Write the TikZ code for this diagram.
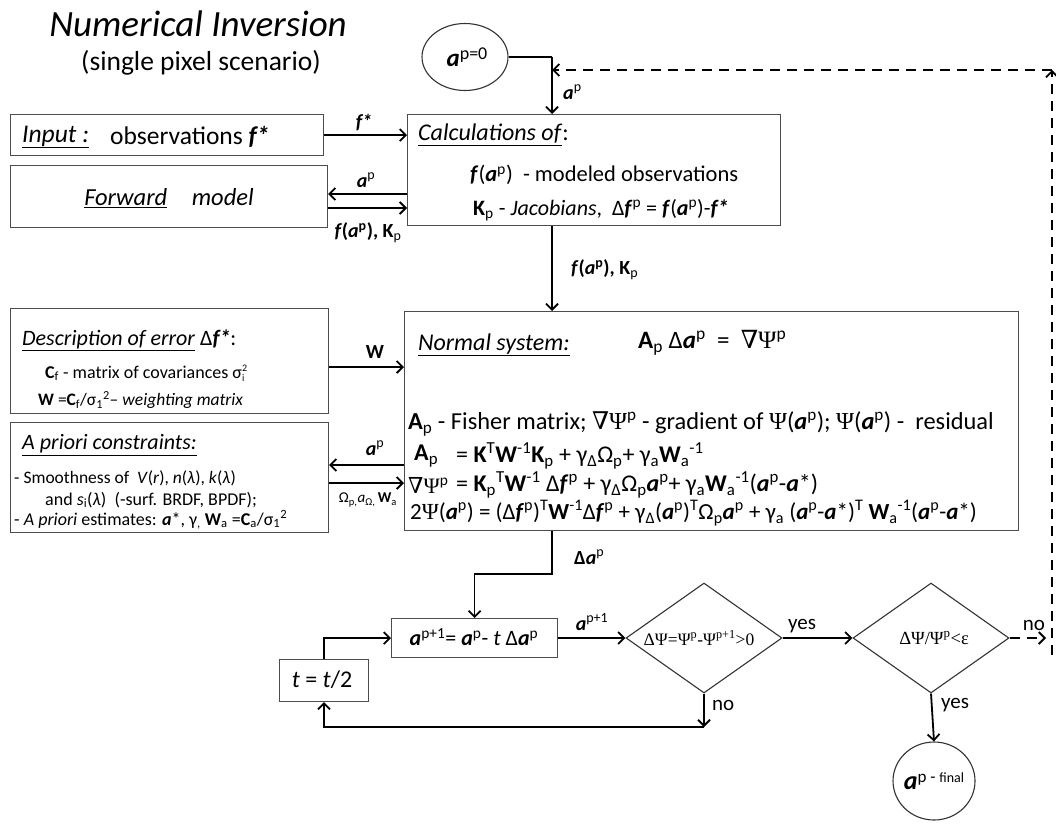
\documentclass[tikz,border=0pt]{standalone}
\usepackage{fontspec}
\setmainfont{Carlito}
\newfontfamily\serifgr{Liberation Serif}
\newfontfamily\dvserif{DejaVu Serif}
\usetikzlibrary{arrows.meta,shapes.geometric}
\newcommand\fz[1]{\fontsize{#1}{#1}\selectfont}
\newcommand\bia{\textbf{\textit{a}}}
\newcommand\bif{\textbf{\textit{f}}}
\newcommand\up[1]{\textsuperscript{#1}}
\newcommand\dn[1]{\textsubscript{#1}}
\newcommand\Psy{{\serifgr Ψ}}
\newcommand\nab{{\dvserif ∇}}
\begin{document}
\begin{tikzpicture}[x=1pt,y=-1pt,
  box/.style={draw=black!70,line width=1.1pt,fill=white,inner sep=0pt,anchor=north west},
  arr/.style={line width=1.8pt,-{Straight Barb[length=6pt,width=12pt]}},
  ln/.style={line width=1.8pt},
  dsh/.style={dash pattern=on 10pt off 7pt},
  txt/.style={anchor=west,inner sep=0pt,font=\fz{24}},
  stxt/.style={anchor=west,inner sep=0pt,font=\fz{18}},
  lab/.style={inner sep=1pt,font=\fz{20}},
  dia/.style={diamond,draw=black!80,line width=1.1pt,minimum width=156pt,minimum height=110pt,inner sep=0pt},
  circ/.style={ellipse,draw=black!80,line width=1.1pt,inner sep=0pt},
]
\useasboundingbox (0,0) rectangle (1056,825);
\fill[white] (0,0) rectangle (1056,825);

% title
\node[inner sep=0pt,font=\fz{37}\itshape] (title) at (198,24) {Numerical Inversion};
\node[inner sep=0pt,font=\fz{27.5}] (subtitle) at (201,63) {(single pixel scenario)};

% boxes
\node[box,minimum width=313pt,minimum height=41pt] (input) at (10,114) {};
\node[box,minimum width=317pt,minimum height=62pt] (fwd) at (10,165) {};
\node[box,minimum width=373pt,minimum height=111pt] (calc) at (407,114) {};
\node[box,minimum width=318pt,minimum height=105pt] (desc) at (10,308) {};
\node[box,minimum width=318pt,minimum height=110pt] (apri) at (10,422) {};
\node[box,minimum width=614pt,minimum height=219pt] (norm) at (404,311) {};
\node[box,minimum width=166pt,minimum height=39pt] (step) at (391,618) {};
\node[box,minimum width=89pt,minimum height=42pt] (tbox) at (279,659) {};
\node[circ,minimum width=86pt,minimum height=67pt] (init) at (465,57) {};
\node[dia] (d1) at (704,638) {};
\node[dia] (d2) at (931,638) {};
\node[circ,minimum width=82pt,minimum height=78pt] (final) at (934,781) {};

% texts
\node[txt,font=\fz{25.5}] (inT1) at (22,137) {\underline{\textit{Input :}}};
\node[txt,font=\fz{25.5}] (inT2) at (110,137) {observations \textbf{\textit{f*}}};
\node[inner sep=0pt,font=\fz{24.5}] (fwT) at (169,198) {\underline{\textit{Forward}}\quad\textit{model}};
\node[txt] (caT1) at (418,135) {\underline{\textit{Calculations of}}:};
\node[txt,font=\fz{22.5}] (caT2) at (470,175) {\bif(\bia\up{p})\ \ - modeled observations};
\node[txt,font=\fz{22}] (caT3) at (473,210) {\textbf{K}\dn{p} - \textit{Jacobians},\ \ Δ\bif\up{p} = \bif(\bia\up{p})-\textbf{\textit{f*}}};
\node[txt,font=\fz{22}] (deT1) at (22,340) {\underline{\textit{Description of error}} Δ\textbf{\textit{f*}}:};
\node[stxt] (deT2) at (45,373) {\textbf{C}\dn{f} - matrix of covariances σ\raisebox{-3pt}{\fz{10}\shortstack[l]{2\\i}}};
\node[stxt,font=\fz{17.5}] (deT3) at (38,400) {\textbf{W} =\textbf{C}\dn{f}/σ\dn{1}\up{2}– \textit{weighting matrix}};
\node[txt,font=\fz{22}] (apT1) at (22,445) {\underline{\textit{A priori constraints:}}};
\node[stxt,font=\fz{17.5}] (apT2) at (14,478) {- Smoothness of \ \textit{V}(\textit{r}), \textit{n}(\textit{λ}), \textit{k}(\textit{λ})};
\node[stxt] (apT3) at (45,500) {and \textit{s}\dn{i}(\textit{λ})\ \ (-surf. BRDF, BPDF);};
\node[stxt] (apT4) at (14,520) {- \textit{A priori} estimates: \bia*, γ\dn{,} \textbf{W}\dn{a} =\textbf{C}\dn{a}/σ\dn{1}\up{2}};
\node[txt] (nsT1) at (418,345) {\underline{\textit{Normal system:}}};
\node[txt,font=\fz{25}] (nsT2) at (638,343) {\textbf{A}\dn{p} Δ\bia\up{p}\ \ =\ \ \nab\Psy\up{p}};
\node[txt,font=\fz{24.4}] (nsT3) at (408,424) {\textbf{A}\dn{p} - Fisher matrix; \nab\Psy\up{p} - gradient of \Psy(\bia\up{p}); \Psy(\bia\up{p}) -\ \ residual};
\node[txt] (nsT4a) at (414,456) {\textbf{A}\dn{p}};
\node[txt] (nsT4b) at (456,456) {= \textbf{K}\up{T}\textbf{W}\up{-1}\textbf{K}\dn{p} + γ\dn{Δ}Ω\dn{p}+ γ\dn{a}\textbf{W}\dn{a}\up{-1}};
\node[txt,font=\fz{22}] (nsT5a) at (408,485) {\nab\Psy\up{p}};
\node[txt] (nsT5b) at (456,485) {= \textbf{K}\dn{p}\up{T}\textbf{W}\up{-1} Δ\bif\up{p} + γ\dn{Δ}Ω\dn{p}\bia\up{p}+ γ\dn{a}\textbf{W}\dn{a}\up{-1}(\bia\up{p}-\bia*)};
\node[txt,font=\fz{23}] (nsT6) at (410,513) {2\Psy(\bia\up{p}) = (Δ\bif\up{p})\up{T}\textbf{W}\up{-1}Δ\bif\up{p} + γ\dn{Δ}(\bia\up{p})\up{T}Ω\dn{p}\bia\up{p} + γ\dn{a} (\bia\up{p}-\bia*)\up{T} \textbf{W}\dn{a}\up{-1}(\bia\up{p}-\bia*)};
\node[inner sep=0pt,font=\fz{22}] (stT) at (474,637) {\bia\up{p+1}= \bia\up{p}- \textit{t} Δ\bia\up{p}};
\node[inner sep=0pt,font=\fz{24}] (tT) at (322,680) {\textit{t} = \textit{t}/2};
\node[inner sep=0pt,font=\fz{17.5}\serifgr] (d1T) at (699,638) {ΔΨ=Ψ\up{p}-Ψ\up{p+1}>0};
\node[inner sep=0pt,font=\fz{18.5}\serifgr] (d2T) at (934,638) {ΔΨ/Ψ\up{p}<ε};
\node[inner sep=0pt] (initT) at (467,57) {{\fz{25}\bia}\raisebox{7pt}{\fz{18}p=0}};
\node[inner sep=0pt] (finT) at (934,781) {{\fz{26}\bia}\raisebox{7pt}{\fz{17}p - {\fz{14}final}}};

% connectors
\coordinate (jtop) at (552,57);
\coordinate (vTop) at (1052,70);
\coordinate (vBot) at (1052,655);
\coordinate (noEnd) at (1046,638);
\draw[ln] (init.east) -- (jtop);
\draw[arr] (jtop) -- (jtop |- calc.north);
\draw[arr] (input.east) -- (calc.west |- input.east);
\draw[arr] (calc.west |- 0,194) -- (fwd.east |- 0,194);
\draw[arr] (fwd.east |- 0,208) -- (calc.west |- 0,208);
\draw[arr] (jtop |- calc.south) -- (jtop |- norm.north);
\draw[arr] (desc.east |- 0,367) -- (norm.west |- 0,367);
\draw[arr] (norm.west |- 0,465) -- (apri.east |- 0,465);
\draw[arr] (apri.east |- 0,483) -- (norm.west |- 0,483);
\draw[arr] (jtop |- norm.south) -- ++(0,43) -| (step.north);
\draw[arr] (step.east) -- (d1.west);
\draw[arr] (tbox.north) |- (step.west);
\draw[arr] (d1.south) -- (d1.south |- 0,727);
\draw[arr] (d1.south |- 0,727) -| (tbox.south);
\draw[arr] (d1.east) -- (d2.west);
\draw[arr] (d2.south) -- (final.north);
\draw[arr,dsh] (d2.east) -- (noEnd);
\draw[arr,dsh] (vBot) -- (vTop);
\draw[arr,dsh] (vTop) -- (jtop |- vTop);

% connector labels
\node[lab] (lfs) at (364,123) {\textbf{\textit{f*}}};
\node[lab] (lap1) at (366,180) {\bia\up{p}};
\node[lab] (lfk1) at (368,233) {\textbf{\bif(\bia\up{p}), K}\dn{p}};
\node[lab,anchor=west] (lap0) at (562,92) {\bia\up{p}};
\node[lab,anchor=west] (lfk2) at (570,270) {\textbf{\bif(\bia\up{p}), K}\dn{p}};
\node[lab] (lW) at (375,352) {\textbf{W}};
\node[lab] (lap2) at (375,448) {\bia\up{p}};
\node[lab,font=\fz{15}] (lom) at (368,500) {Ω\dn{p,}\textit{a}\dn{Ω,}\,\textbf{W}\dn{a}};
\node[lab,anchor=west] (lda) at (573,557) {\textbf{Δ}\bia\up{p}};
\node[lab] (lap3) at (592,622) {\bia\up{p+1}};
\node[lab,font=\fz{21}] (lyes1) at (802,626) {yes};
\node[lab,anchor=west,font=\fz{21}] (lno1) at (711,705) {no};
\node[lab,anchor=west,font=\fz{21}] (lyes2) at (940,705) {yes};
\node[lab,font=\fz{21}] (lno2) at (1034,625) {no};
\end{tikzpicture}
\end{document}
